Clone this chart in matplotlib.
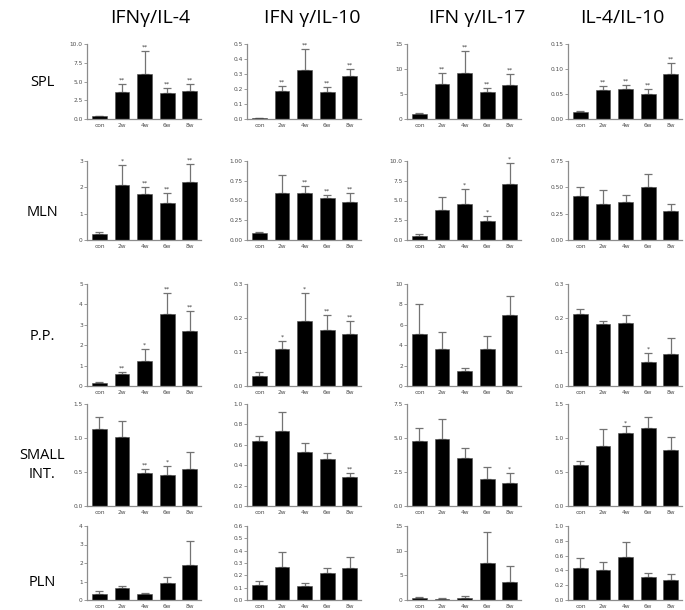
import matplotlib
matplotlib.use("Agg")
import matplotlib.pyplot as plt

groups = ["con", "2w", "4w", "6w", "8w"]
ratios = ["IFNγ/IL-4", "IFN γ/IL-10", "IFN γ/IL-17", "IL-4/IL-10"]
organs = ["SPL", "MLN", "P.P.", "SMALL\nINT.", "PLN"]

# one list per ratio (column), bars are con..8w
spl_mean = [[0.35, 3.65, 6.0, 3.5, 3.8],
            [0.005, 0.185, 0.33, 0.177, 0.285],
            [1.0, 7.1, 9.2, 5.4, 6.9],
            [0.015, 0.058, 0.060, 0.051, 0.091]]
spl_err = [[0.05, 1.05, 3.05, 0.7, 0.9],
           [0.002, 0.037, 0.137, 0.038, 0.05],
           [0.15, 2.1, 4.5, 0.8, 2.1],
           [0.002, 0.008, 0.008, 0.009, 0.022]]
spl_stars = [["", "**", "**", "**", "**"],
             ["", "**", "**", "**", "**"],
             ["", "**", "**", "**", "**"],
             ["", "**", "**", "**", "**"]]
spl_ticks = [["0.0", "2.5", "5.0", "7.5", "10.0"],
             ["0.0", "0.1", "0.2", "0.3", "0.4", "0.5"],
             ["0", "5", "10", "15"],
             ["0.00", "0.05", "0.10", "0.15"]]

mln_mean = [[0.22, 2.1, 1.75, 1.42, 2.22],
            [0.085, 0.6, 0.6, 0.535, 0.485],
            [0.5, 3.8, 4.6, 2.4, 7.1],
            [0.415, 0.34, 0.365, 0.5, 0.275]]
mln_err = [[0.08, 0.75, 0.27, 0.38, 0.65],
           [0.015, 0.22, 0.08, 0.04, 0.115],
           [0.2, 1.6, 1.9, 0.7, 2.7],
           [0.085, 0.13, 0.065, 0.13, 0.065]]
mln_stars = [["", "*", "**", "**", "**"],
             ["", "", "**", "**", "**"],
             ["", "", "*", "*", "*"],
             ["", "", "", "", ""]]
mln_ticks = [["0", "1", "2", "3"],
             ["0.00", "0.25", "0.50", "0.75", "1.00"],
             ["0.0", "2.5", "5.0", "7.5", "10.0"],
             ["0.00", "0.25", "0.50", "0.75"]]

pp_mean = [[0.15, 0.6, 1.22, 3.55, 2.7],
           [0.03, 0.11, 0.19, 0.165, 0.153],
           [5.1, 3.6, 1.45, 3.6, 7.0],
           [0.212, 0.182, 0.185, 0.07, 0.094]]
pp_err = [[0.03, 0.1, 0.58, 1.0, 0.97],
          [0.01, 0.023, 0.085, 0.045, 0.037],
          [2.95, 1.65, 0.35, 1.35, 1.85],
          [0.015, 0.008, 0.025, 0.028, 0.046]]
pp_stars = [["", "**", "*", "**", "**"],
            ["", "*", "*", "**", "**"],
            ["", "", "", "", ""],
            ["", "", "", "*", ""]]
pp_ticks = [["0", "1", "2", "3", "4", "5"],
            ["0.0", "0.1", "0.2", "0.3"],
            ["0", "2", "4", "6", "8", "10"],
            ["0.0", "0.1", "0.2", "0.3"]]

si_mean = [[1.13, 1.01, 0.48, 0.46, 0.55],
           [0.64, 0.74, 0.525, 0.465, 0.28],
           [4.8, 4.9, 3.5, 2.0, 1.7],
           [0.6, 0.88, 1.07, 1.14, 0.83]]
si_err = [[0.18, 0.24, 0.07, 0.13, 0.25],
          [0.05, 0.18, 0.095, 0.055, 0.045],
          [0.9, 1.5, 0.8, 0.9, 0.7],
          [0.06, 0.25, 0.1, 0.17, 0.19]]
si_stars = [["", "", "**", "*", ""],
            ["", "", "", "", "**"],
            ["", "", "", "", "*"],
            ["", "", "*", "", ""]]
si_ticks = [["0.0", "0.5", "1.0", "1.5"],
            ["0.0", "0.2", "0.4", "0.6", "0.8", "1.0"],
            ["0.0", "2.5", "5.0", "7.5"],
            ["0.0", "0.5", "1.0", "1.5"]]

pln_mean = [[0.35, 0.65, 0.3, 0.93, 1.9],
            [0.12, 0.27, 0.115, 0.215, 0.257],
            [0.5, 0.3, 0.45, 7.5, 3.7],
            [0.43, 0.41, 0.58, 0.305, 0.27]]
pln_err = [[0.13, 0.13, 0.1, 0.29, 1.3],
           [0.038, 0.118, 0.025, 0.045, 0.093],
           [0.1, 0.1, 0.3, 6.2, 3.2],
           [0.14, 0.1, 0.21, 0.06, 0.08]]
pln_stars = [["", "", "", "", ""]] * 4
pln_ticks = [["0", "1", "2", "3", "4"],
             ["0.0", "0.1", "0.2", "0.3", "0.4", "0.5", "0.6"],
             ["0", "5", "10", "15"],
             ["0.0", "0.2", "0.4", "0.6", "0.8", "1.0"]]

all_mean = [spl_mean, mln_mean, pp_mean, si_mean, pln_mean]
all_err = [spl_err, mln_err, pp_err, si_err, pln_err]
all_stars = [spl_stars, mln_stars, pp_stars, si_stars, pln_stars]
all_ticks = [spl_ticks, mln_ticks, pp_ticks, si_ticks, pln_ticks]

W, H = 685, 610
fig = plt.figure(figsize=(W / 100, H / 100), dpi=100)
fig.patch.set_facecolor("white")

# pixel layout
col_left = [87, 247, 407, 568]
col_w = 114
row_span = [(44, 119), (161, 240), (284, 386), (404, 506), (526, 600)]
title_x = [150, 312, 477, 622]

axcol = "0.55"
for r in range(5):
    top, bot = row_span[r]
    for c in range(4):
        ax = fig.add_axes([col_left[c] / W, 1 - bot / H, col_w / W, (bot - top) / H])
        x = list(range(len(groups)))
        ax.bar(x, all_mean[r][c], width=0.66, color="black", edgecolor="0.3", linewidth=0.4, zorder=2)
        ax.errorbar(x, all_mean[r][c], yerr=[[0] * 5, all_err[r][c]], fmt="none",
                    ecolor="0.45", elinewidth=0.9, capsize=2.6, capthick=0.9, zorder=1)
        for i in x:
            s = all_stars[r][c][i]
            if s:
                ax.annotate(s, (i, all_mean[r][c][i] + all_err[r][c][i]), xytext=(0, 1),
                            textcoords="offset points", ha="center", va="bottom",
                            fontsize=4.5, color="0.25", annotation_clip=False)
        labels = all_ticks[r][c]
        vals = [float(t) for t in labels]
        ax.set_yticks(vals)
        ax.set_yticklabels(labels)
        ax.set_ylim(0, vals[-1])
        ax.set_xlim(-0.55, 4.5)
        ax.set_xticks(x)
        ax.set_xticklabels(groups)
        ax.tick_params(axis="y", length=2, width=0.6, color=axcol, labelsize=4.2,
                       labelcolor="0.3", pad=1)
        ax.tick_params(axis="x", length=0, labelsize=4.2, labelcolor="0.3", pad=3)
        for side in ["top", "right"]:
            ax.spines[side].set_visible(False)
        for side in ["left", "bottom"]:
            ax.spines[side].set_color(axcol)
            ax.spines[side].set_linewidth(0.9)
        ax.set_facecolor("none")

for c in range(4):
    fig.text(title_x[c] / W, 1 - 18 / H, ratios[c], ha="center", va="center",
             fontsize=14, family="Open Sans", color="black")

organ_y = [83, 212, 336, 465, 582]
for r in range(5):
    fig.text(42 / W, 1 - organ_y[r] / H, organs[r], ha="center", va="center",
             fontsize=10.5, family="Open Sans", color="black", linespacing=1.3)

fig.savefig("out.png", dpi=100)
